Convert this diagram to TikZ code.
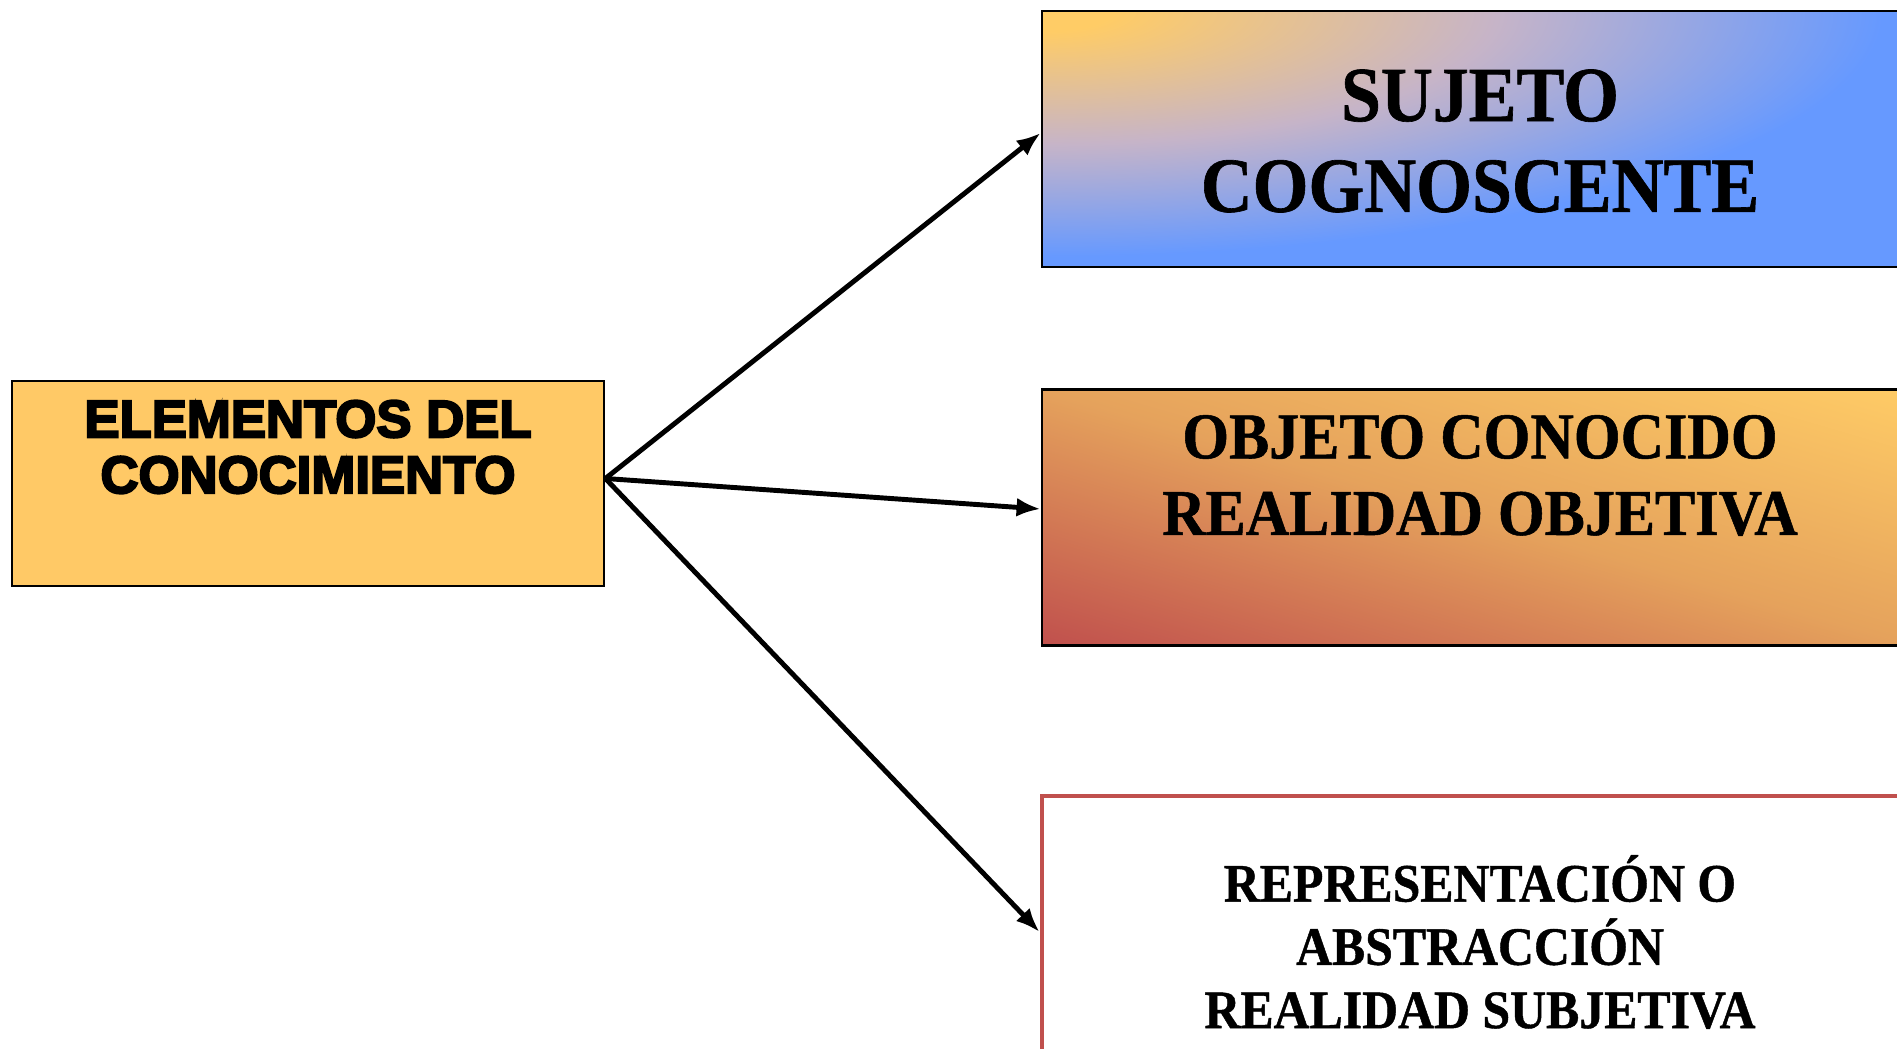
\documentclass[tikz,border=0pt]{standalone}
\usepackage{fontspec}
\usepackage{tikz}
\usepackage{xcolor}
\usetikzlibrary{calc}
\usetikzlibrary{arrows.meta}
\usetikzlibrary{positioning}
\newfontfamily\elemfont[FakeBold=4]{Liberation Sans Bold}
\newfontfamily\boxfont[FakeStretch=0.92, FakeBold=0.8]{Liberation Serif Bold}
\definecolor{elemcol}{RGB}{255,201,102}
\definecolor{sjorange}{RGB}{255,204,102}
\definecolor{sjmid}{RGB}{198,180,200}
\definecolor{sjblue}{RGB}{102,153,255}
\definecolor{objred}{RGB}{192,80,77}
\colorlet{repcol}{objred}
\pgfdeclareradialshading{sjglow}{\pgfpoint{0bp}{0bp}}{color(0bp)=(sjorange); color(2bp)=(sjorange); color(13bp)=(sjmid); color(24bp)=(sjblue); color(50bp)=(sjblue)}
% red at the lower left, yellow at the upper right
\pgfdeclarefunctionalshading{objshade}{\pgfpoint{-50bp}{-50bp}}{\pgfpoint{50bp}{50bp}}{}{
  add 50 add 100 div
  dup 0 lt {pop 0} if dup 1 gt {pop 1} if
  dup 0.5 lt
  {2 mul dup 0.1451 mul 0.7529 add exch dup 0.3216 mul 0.3137 add exch 0.0588 mul 0.3020 add}
  {2 mul 1 sub dup 0.1020 mul 0.8980 add exch dup 0.1647 mul 0.6353 add exch 0.0392 mul 0.3608 add}
  ifelse
}
\begin{document}
\begin{tikzpicture}
\tikzstyle{elemstyle}=[draw=black, line width=0.8pt, fill=elemcol, minimum width=5.92cm, minimum height=2.05cm, inner sep=0pt]
\tikzstyle{rbox}=[line width=0.8pt, minimum width=8.76cm, minimum height=2.56cm, inner sep=0pt]
\tikzstyle{elemtext}=[align=center, inner sep=0pt, font=\elemfont\fontsize{15}{15.9}\selectfont]
\tikzstyle{sjtext}=[align=center, inner sep=0pt, font=\boxfont\fontsize{22.2}{25.8}\selectfont]
\tikzstyle{objtext}=[align=center, inner sep=0pt, font=\boxfont\fontsize{18.6}{21.8}\selectfont]
\tikzstyle{reptext}=[align=center, inner sep=0pt, font=\boxfont\fontsize{15.4}{18}\selectfont]
\tikzstyle{arrow}=[line width=1.4pt, black, -{Latex[length=2.4mm, width=1.9mm]}]

\useasboundingbox (0,0) rectangle (18.97,-10.49);

\node[elemstyle] (elem) at (3.08,-4.835) {};
\node[elemtext] (elemlabel) at ($(elem.center)+(0,0.365)$) {ELEMENTOS DEL\\CONOCIMIENTO};

% glow from the top left corner
\node[rbox, draw=black, fill=sjblue, path picture={
  \shade[shading=sjglow] ($(path picture bounding box.north west)+(-8.76,-2.56)$) rectangle ($(path picture bounding box.north west)+(8.76,2.56)$);
  }] (sujeto) at (14.80,-1.39) {};
\node[sjtext] (sujetolabel) at ($(sujeto.center)+(0,-0.02)$) {SUJETO\\COGNOSCENTE};

\node[rbox, draw=black, shade, shading=objshade] (objeto) at (14.80,-5.175) {};
\node[objtext] (objetolabel) at ($(objeto.center)+(0,0.42)$) {OBJETO CONOCIDO\\REALIDAD OBJETIVA};

\node[rbox, draw=repcol, line width=1.4pt, fill=white] (repres) at (14.80,-9.24) {};
\node[reptext] (represlabel) at ($(repres.center)+(0,-0.18)$) {REPRESENTACIÓN O\\ABSTRACCIÓN\\REALIDAD SUBJETIVA};

% arrows
\coordinate (fork) at ([yshift=0.05cm]elem.east);
\draw[arrow] (fork) -- ([yshift=0.06cm]sujeto.west);
\draw[arrow] (fork) -- ([yshift=0.085cm]objeto.west);
\draw[arrow] (fork) -- ([yshift=-0.08cm]repres.west);
\end{tikzpicture}
\end{document}
